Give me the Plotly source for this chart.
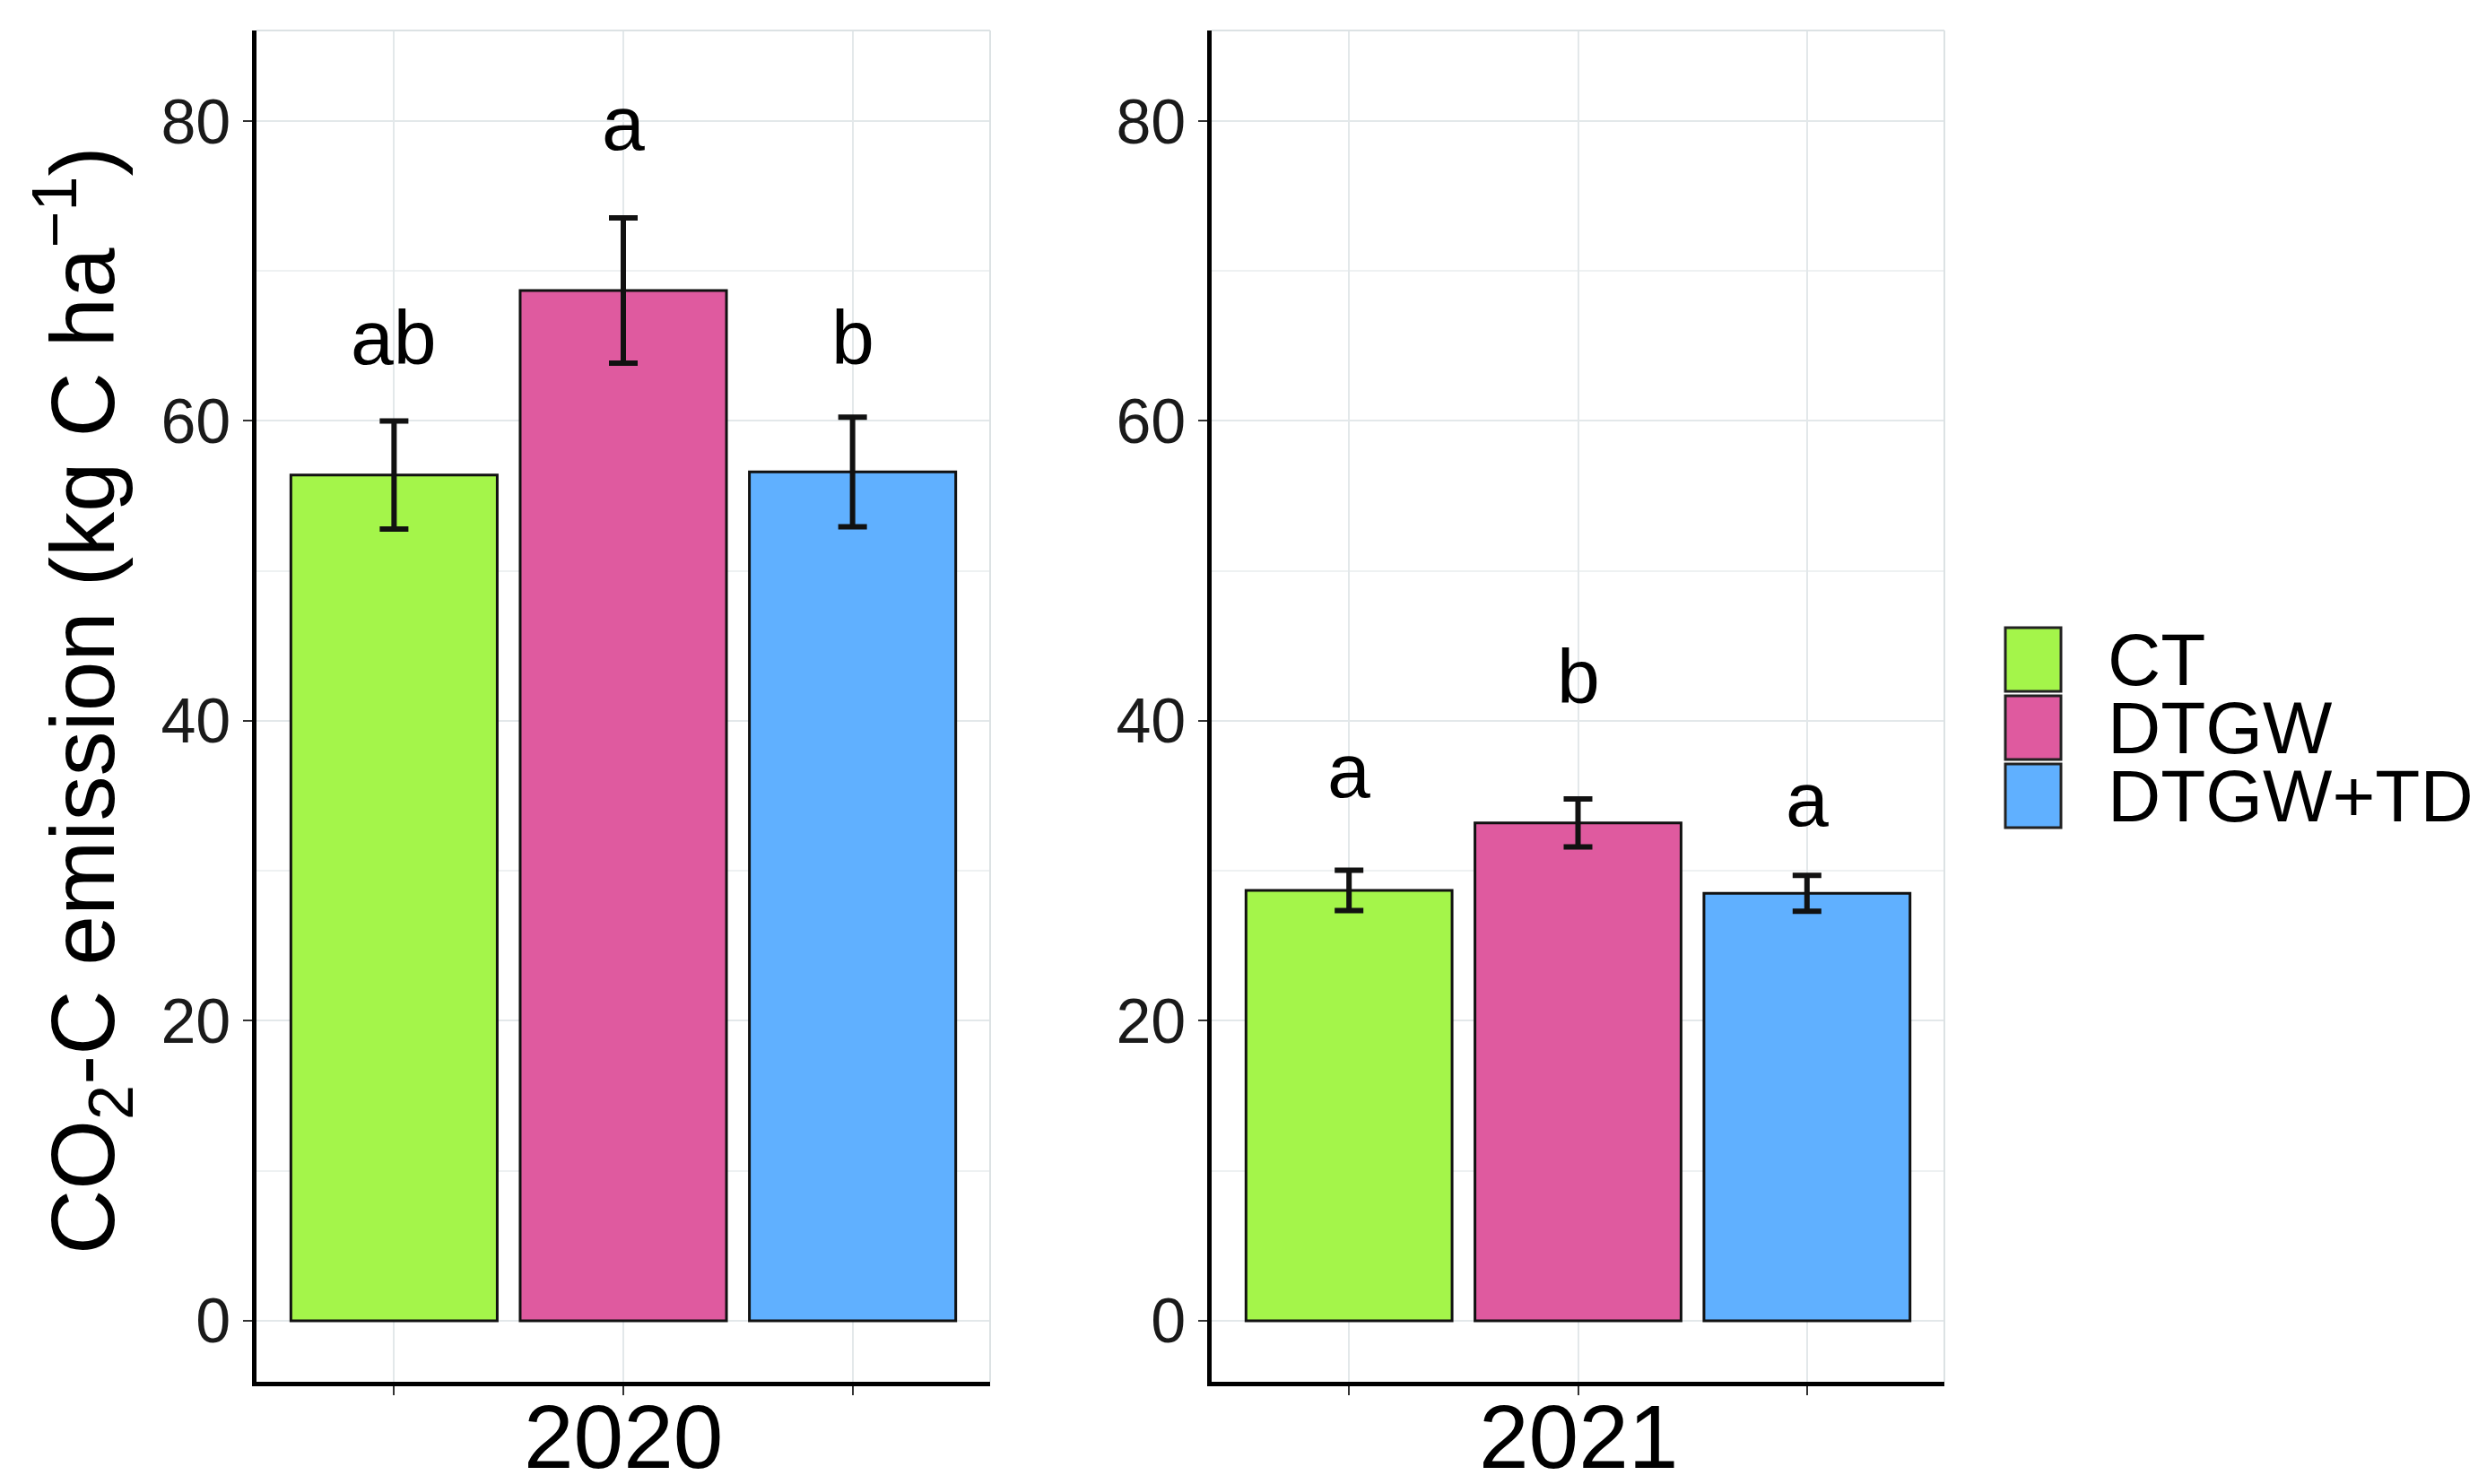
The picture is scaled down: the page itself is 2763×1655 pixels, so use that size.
import plotly.graph_objects as go
from plotly.subplots import make_subplots

# data
years = ["2020", "2021"]
treatments = ["CT", "DTGW", "DTGW+TD"]
colors = ["#A4F54A", "#DF5A9F", "#60B0FF"]
positions = [-1, 0, 1]

mean_2020 = [56.4, 68.7, 56.6]
se_2020 = [3.6, 4.85, 3.65]
letters_2020 = ["ab", "a", "b"]
letter_y_2020 = [65.6, 79.9, 65.6]

mean_2021 = [28.7, 33.2, 28.5]
se_2021 = [1.35, 1.6, 1.2]
letters_2021 = ["a", "b", "a"]
letter_y_2021 = [36.7, 43.0, 34.8]

y_ticks = [0, 20, 40, 60, 80]

W, H = 2763, 1655
FONT = "Liberation Sans, Arial, sans-serif"

fig = make_subplots(rows=1, cols=2, horizontal_spacing=0.09)

panels = [(mean_2020, se_2020, letters_2020, letter_y_2020),
          (mean_2021, se_2021, letters_2021, letter_y_2021)]

for c, (means, ses, lets, lety) in enumerate(panels, start=1):
    for i, t in enumerate(treatments):
        fig.add_trace(go.Bar(
            x=[positions[i]], y=[means[i]], width=0.9, name=t,
            marker=dict(color=colors[i], line=dict(color="#111111", width=3)),
            error_y=dict(type="data", array=[ses[i]], color="#111111",
                         thickness=6, width=16),
            showlegend=False,
        ), row=1, col=c)
    xref = "x" if c == 1 else "x2"
    yref = "y" if c == 1 else "y2"
    for i, txt in enumerate(lets):
        fig.add_annotation(x=positions[i], y=lety[i], xref=xref, yref=yref,
                           text=txt, showarrow=False, yanchor="middle",
                           font=dict(size=86, color="black", family=FONT))
    # year label under each panel
    fig.add_annotation(x=0.5, y=1 - 1594 / H, xref=xref + " domain", yref="paper",
                       text=years[c - 1], showarrow=False,
                       xanchor="center", yanchor="middle",
                       font=dict(size=100, color="black", family=FONT))

# panel placement
x_domains = [[278 / W, 1096 / W], [1343 / W, 2160 / W]]
y_domain = [1 - 1533 / H, 1 - 26 / H]

for c in (1, 2):
    fig.update_xaxes(
        domain=x_domains[c - 1], range=[-1.6, 1.6],
        tickvals=positions, showticklabels=False,
        ticks="outside", ticklen=10, tickwidth=2, tickcolor="#333333",
        showline=True, linecolor="black", linewidth=4.5, mirror=False,
        showgrid=True, gridcolor="#E3E8EA", gridwidth=2,
        zeroline=False, row=1, col=c)
    fig.update_yaxes(
        domain=y_domain, range=[-4.07, 86.04],
        tickvals=y_ticks, ticktext=[str(v) for v in y_ticks],
        tickfont=dict(size=70, color="#1a1a1a", family=FONT),
        ticks="outside", ticklen=10, tickwidth=2, tickcolor="#333333",
        showline=True, linecolor="black", linewidth=4.5,
        showgrid=True, gridcolor="#E3E8EA", gridwidth=2,
        minor=dict(dtick=10, tick0=10, showgrid=True, gridcolor="#EEF1F2", gridwidth=1.5, ticks=""),
        zeroline=False, row=1, col=c)
    # light border on the top and right side of each panel
    fig.add_shape(type="line", xref="x domain" if c == 1 else "x2 domain",
                  yref="y domain" if c == 1 else "y2 domain",
                  x0=0, x1=1, y0=1, y1=1, line=dict(color="#DCE2E4", width=2))
    fig.add_shape(type="line", xref="x domain" if c == 1 else "x2 domain",
                  yref="y domain" if c == 1 else "y2 domain",
                  x0=1, x1=1, y0=0, y1=1, line=dict(color="#DCE2E4", width=2))

# y axis title
fig.add_annotation(x=85 / W, y=0.533, xref="paper", yref="paper",
                   text="CO<sub>2</sub>-C emission (kg C ha<sup>\u22121</sup>)",
                   textangle=-90, showarrow=False,
                   xanchor="center", yanchor="middle",
                   font=dict(size=100, color="black", family=FONT))

# legend drawn as boxes with labels
leg_x0, leg_w = 2228 / W, 62 / W
leg_top, leg_h, leg_step = 1 - 692 / H, 71 / H, 76 / H
for i, t in enumerate(treatments):
    y1 = leg_top - i * leg_step
    fig.add_shape(type="rect", xref="paper", yref="paper",
                  x0=leg_x0, x1=leg_x0 + leg_w, y0=y1 - leg_h, y1=y1,
                  fillcolor=colors[i], line=dict(color="#222222", width=3))
    fig.add_annotation(x=2340 / W, y=y1 - leg_h / 2, xref="paper", yref="paper",
                       text=t, showarrow=False, xanchor="left", yanchor="middle",
                       font=dict(size=82, color="black", family=FONT))

fig.update_layout(
    width=W, height=H,
    margin=dict(l=0, r=0, t=0, b=0),
    plot_bgcolor="white", paper_bgcolor="white",
    barmode="overlay", showlegend=False,
    font=dict(family=FONT, color="black"),
)

fig.write_html("out.html")
